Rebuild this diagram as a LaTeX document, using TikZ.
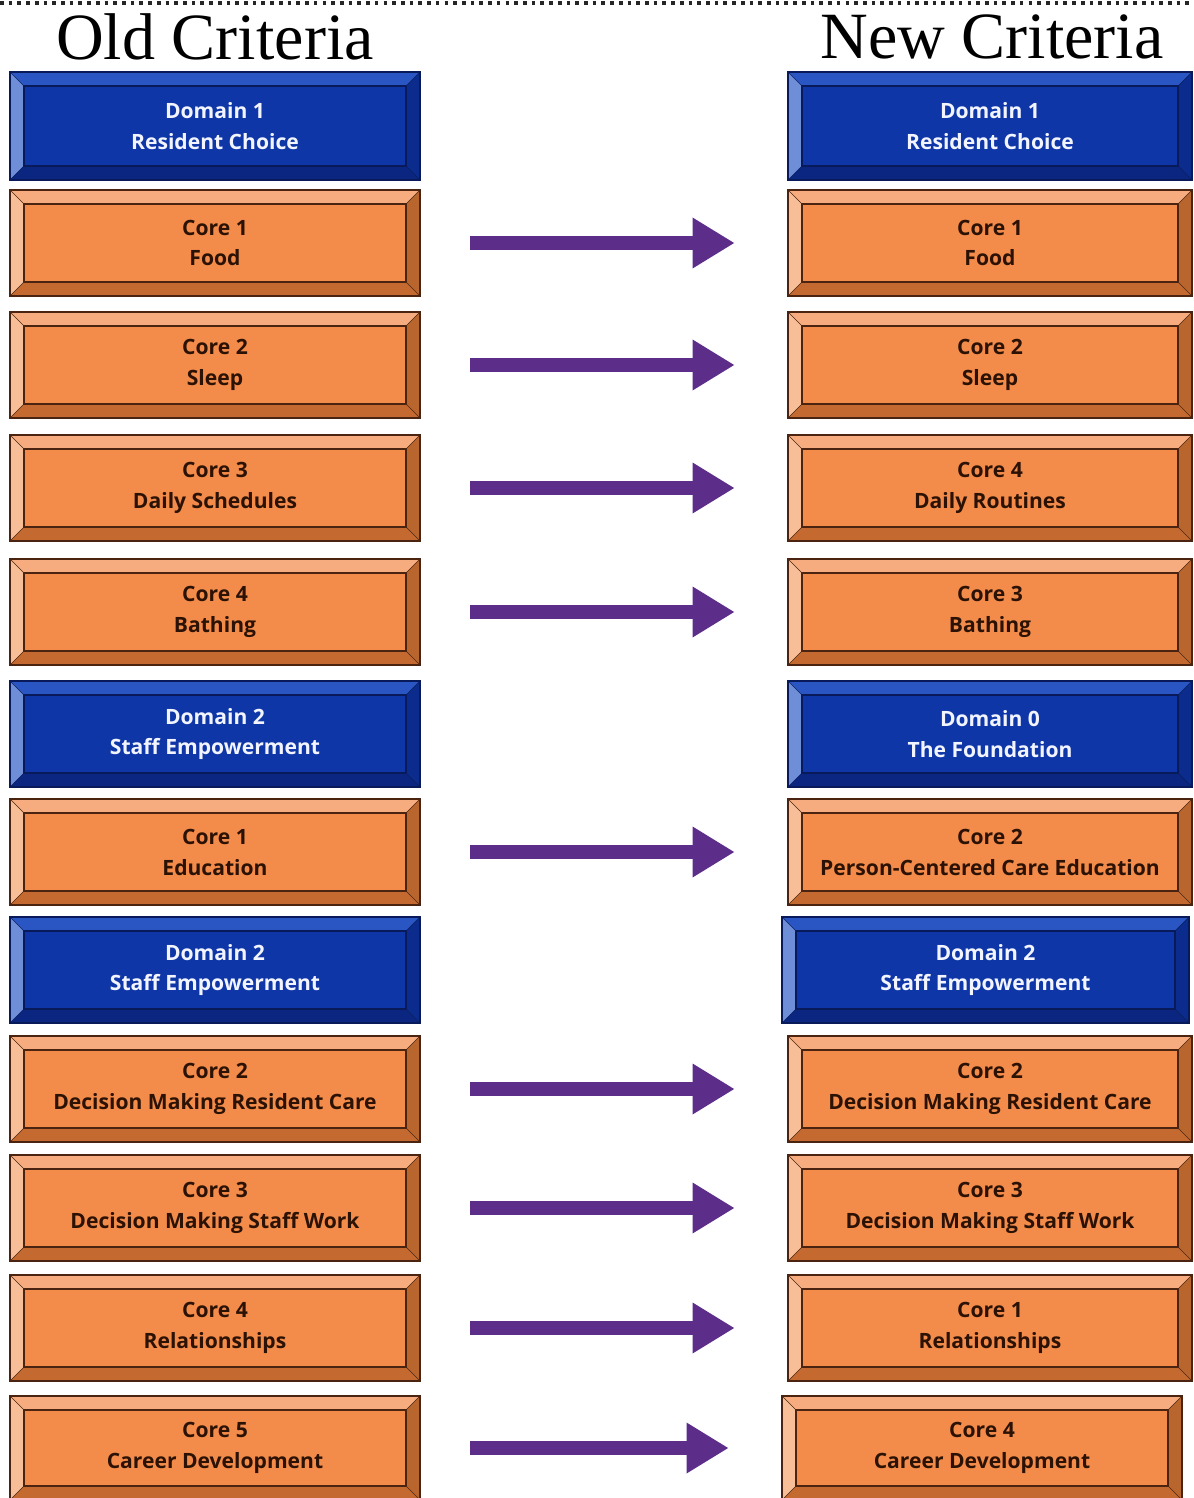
\documentclass[tikz,border=0pt]{standalone}
\usepackage{fontspec}
\setmainfont{Liberation Serif}
\newfontfamily\boxfont{Open Sans}
\usepackage{tikz}
\usetikzlibrary{calc}
\usetikzlibrary{arrows.meta}
\definecolor{domface}{HTML}{0F36A6}
\definecolor{domtop}{HTML}{2A56C4}
\definecolor{domleft}{HTML}{6E8ED8}
\definecolor{domright}{HTML}{0B2C8C}
\definecolor{dombot}{HTML}{0A2680}
\definecolor{domline}{HTML}{081A5A}
\definecolor{domtext}{HTML}{F2F5FF}
\definecolor{coreface}{HTML}{F38B4A}
\definecolor{coretop}{HTML}{F6AC7E}
\definecolor{coreleft}{HTML}{F8BE98}
\definecolor{coreright}{HTML}{B8652E}
\definecolor{corebot}{HTML}{C46A30}
\definecolor{coreline}{HTML}{4A2410}
\definecolor{coretext}{HTML}{2B1205}
\definecolor{arrowpurple}{HTML}{5C2E8A}
\tikzset{
  boxtext/.style={align=center, inner sep=0pt, font=\boxfont\bfseries\fontsize{15}{22}\selectfont},
  heading/.style={inner sep=0pt, font=\fontsize{47}{50}\selectfont},
  moveto/.style={draw=arrowpurple, line width=10pt, -{Triangle[length=30pt,width=34pt]}, shorten <=12.5mm, shorten >=13.25mm},
  dotline/.style={line width=2.8pt, dash pattern=on 2.6pt off 3.6pt, black!85}
}
\newcommand{\bevelbox}[7]{\fill[#1top] ( #3 , #4 ) -- ( #5 , #4 ) -- ( #5 - 14 , #4 + 14 ) -- ( #3 + 14 , #4 + 14 ) -- cycle; \fill[#1left] ( #3 , #4 ) -- ( #3 + 14 , #4 + 14 ) -- ( #3 + 14 , #6 - 14 ) -- ( #3 , #6 ) -- cycle; \fill[#1right] ( #5 , #4 ) -- ( #5 , #6 ) -- ( #5 - 14 , #6 - 14 ) -- ( #5 - 14 , #4 + 14 ) -- cycle; \fill[#1bot] ( #3 , #6 ) -- ( #3 + 14 , #6 - 14 ) -- ( #5 - 14 , #6 - 14 ) -- ( #5 , #6 ) -- cycle; \filldraw[fill=#1face, draw=#1line, thick] ( #3 + 14 , #4 + 14 ) rectangle ( #5 - 14 , #6 - 14 ); \draw[#1line] ( #3 , #4 ) -- ( #3 + 14 , #4 + 14 ) ( #5 , #4 ) -- ( #5 - 14 , #4 + 14 ) ( #3 , #6 ) -- ( #3 + 14 , #6 - 14 ) ( #5 , #6 ) -- ( #5 - 14 , #6 - 14 ); \draw[#1line, thick] ( #3 , #4 ) rectangle ( #5 , #6 ); \node[boxtext, text=#1text, minimum width={(#5-#3)*0.25mm}, minimum height={(#6-#4)*0.25mm}] (#2) at ({(#3+#5)/2},{(#4+#6)/2}) {#7};}
\begin{document}
\begin{tikzpicture}[x=0.25mm,y=-0.25mm]
        \useasboundingbox (0,0) rectangle (1193,1498);
        % dotted rule and headings
        \draw[dotline] (0,3) -- (1193,3);
        \node[heading] (oldhead) at (215,37) {Old Criteria};
        \node[heading] (newhead) at (992,37) {New Criteria};

        % old criteria
        \bevelbox{dom}{o1}{10}{72}{420}{180}{Domain 1\\Resident Choice}
        \bevelbox{core}{o2}{10}{190}{420}{296}{Core 1\\Food}
        \bevelbox{core}{o3}{10}{312}{420}{418}{Core 2\\Sleep}
        \bevelbox{core}{o4}{10}{435}{420}{541}{Core 3\\Daily Schedules}
        \bevelbox{core}{o5}{10}{559}{420}{665}{Core 4\\Bathing}
        \bevelbox{dom}{o6}{10}{681}{420}{787}{Domain 2\\Staff Empowerment}
        \bevelbox{core}{o7}{10}{799}{420}{905}{Core 1\\Education}
        \bevelbox{dom}{o8}{10}{917}{420}{1023}{Domain 2\\Staff Empowerment}
        \bevelbox{core}{o9}{10}{1036}{420}{1142}{Core 2\\Decision Making Resident Care}
        \bevelbox{core}{o10}{10}{1155}{420}{1261}{Core 3\\Decision Making Staff Work}
        \bevelbox{core}{o11}{10}{1275}{420}{1381}{Core 4\\Relationships}
        \bevelbox{core}{o12}{10}{1396}{420}{1500}{Core 5\\Career Development}

        % new criteria
        \bevelbox{dom}{n1}{788}{72}{1192}{180}{Domain 1\\Resident Choice}
        \bevelbox{core}{n2}{788}{190}{1192}{296}{Core 1\\Food}
        \bevelbox{core}{n3}{788}{312}{1192}{418}{Core 2\\Sleep}
        \bevelbox{core}{n4}{788}{435}{1192}{541}{Core 4\\Daily Routines}
        \bevelbox{core}{n5}{788}{559}{1192}{665}{Core 3\\Bathing}
        \bevelbox{dom}{n6}{788}{681}{1192}{787}{Domain 0\\The Foundation}
        \bevelbox{core}{n7}{788}{799}{1192}{905}{Core 2\\Person-Centered Care Education}
        \bevelbox{dom}{n8}{782}{917}{1189}{1023}{Domain 2\\Staff Empowerment}
        \bevelbox{core}{n9}{788}{1036}{1192}{1142}{Core 2\\Decision Making Resident Care}
        \bevelbox{core}{n10}{788}{1155}{1192}{1261}{Core 3\\Decision Making Staff Work}
        \bevelbox{core}{n11}{788}{1275}{1192}{1381}{Core 1\\Relationships}
        \bevelbox{core}{n12}{782}{1396}{1182}{1500}{Core 4\\Career Development}

        % arrows
        \draw[moveto] (o2) -- (n2);
        \draw[moveto] (o3) -- (n3);
        \draw[moveto] (o4) -- (n4);
        \draw[moveto] (o5) -- (n5);
        \draw[moveto] (o7) -- (n7);
        \draw[moveto] (o9) -- (n9);
        \draw[moveto] (o10) -- (n10);
        \draw[moveto] (o11) -- (n11);
        \draw[moveto] (o12) -- (n12);

    \end{tikzpicture}
\end{document}
